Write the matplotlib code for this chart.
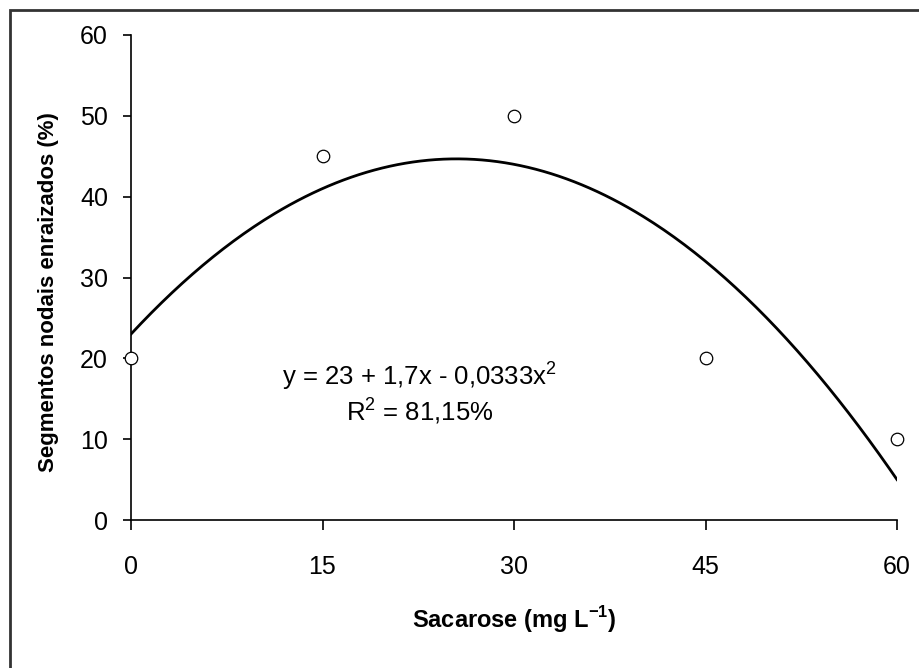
import numpy as np
import matplotlib
matplotlib.use("Agg")
import matplotlib.pyplot as plt
from matplotlib.patches import Rectangle

# Data
sacarose = [0, 15, 30, 45, 60]
enraizados = [20, 45, 50, 20, 10]
x_ticks = [0, 15, 30, 45, 60]
y_ticks = [0, 10, 20, 30, 40, 50, 60]
equation_text = "y = 23 + 1,7x - 0,0333x$^2$"
r2_text = "R$^2$ = 81,15%"

plt.rcParams['font.family'] = ['Liberation Sans', 'DejaVu Sans']
plt.rcParams['mathtext.fontset'] = 'custom'
plt.rcParams['mathtext.rm'] = 'Liberation Sans'
plt.rcParams['mathtext.bf'] = 'Liberation Sans:bold'

W, H = 919, 668
fig = plt.figure(figsize=(W / 100, H / 100), dpi=100)

# outer border
fig.patches.append(Rectangle((9.5 / W, -0.1), 2.0, 1 - 10.5 / H + 0.1,
                             transform=fig.transFigure, fill=False,
                             edgecolor='#333333', linewidth=2.0))

ax = fig.add_axes([131 / W, 1 - 520 / H, (897 - 131) / W, (520 - 35) / H])

# fitted quadratic regression from the data
coef = np.polyfit(sacarose, enraizados, 2)
xs = np.linspace(0, 60, 300)
ax.plot(xs, np.polyval(coef, xs), color='black', linewidth=2.0, zorder=2)

ax.plot(sacarose, enraizados, linestyle='none', marker='o', markersize=9,
        markerfacecolor='white', markeredgecolor='black', markeredgewidth=0.9,
        clip_on=False, zorder=3)

ax.set_xlim(0, 60)
ax.set_ylim(0, 60)
ax.set_xticks(x_ticks)
ax.set_yticks(y_ticks)
for s in ['top', 'right']:
    ax.spines[s].set_visible(False)
for s in ['left', 'bottom']:
    ax.spines[s].set_linewidth(1.2)
ax.tick_params(axis='y', direction='out', length=5.5, width=1.2, pad=11,
               labelsize=18)
ax.tick_params(axis='x', direction='out', length=7, width=1.2, pad=18,
               labelsize=18)

ax.set_xlabel("Sacarose (mg L$^{\\mathbf{-1}}$)", fontsize=17, fontweight='bold',
              labelpad=18)
ax.set_ylabel("Segmentos nodais enraizados (%)", fontsize=16, fontweight='bold',
              labelpad=10)
ax.yaxis.set_label_coords(-0.094, 0.47)

ax.text(22.6, 17.9, equation_text, fontsize=18.5, ha='center', va='center')
ax.text(22.6, 13.6, r2_text, fontsize=18.5, ha='center', va='center')

fig.savefig("out.png", dpi=100)
